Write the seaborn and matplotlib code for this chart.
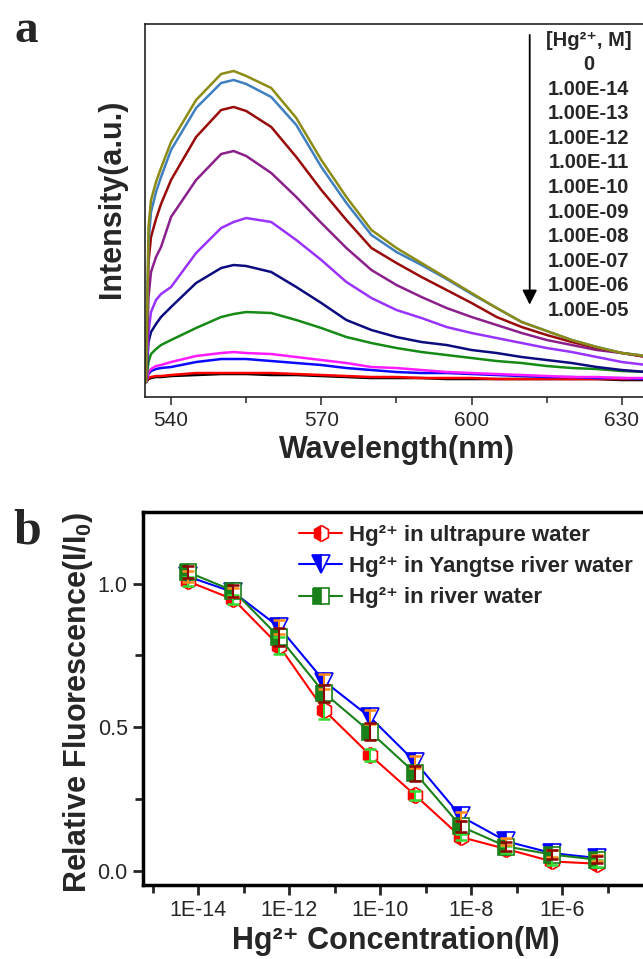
import numpy as np
import pandas as pd
import matplotlib
matplotlib.use("Agg")
import matplotlib.pyplot as plt
from matplotlib.ticker import FixedLocator, FuncFormatter, NullFormatter
import seaborn as sns

# ---- panel a: emission spectra ----
wavelength = [535, 535.5, 536, 537, 538, 540, 545, 550, 552.5, 555, 560, 565, 570, 575,
              580, 585, 590, 595, 600, 605, 610, 615, 620, 625, 630, 635]

conc_labels = ["0", "1.00E-14", "1.00E-13", "1.00E-12", "1.00E-11", "1.00E-10",
               "1.00E-09", "1.00E-08", "1.00E-07", "1.00E-06", "1.00E-05"]

spec_0 = [0, 155, 182, 200, 214, 240, 282, 308, 311, 306, 294, 264, 222, 185, 152, 134, 119, 104, 89, 74, 60, 51, 42, 35, 29, 26]
spec_14 = [0, 140, 170, 190, 205, 232, 274, 299, 302, 298, 285, 257, 215, 179, 147, 130, 117, 103, 88, 74, 60, 51, 42, 35, 29, 26]
spec_13 = [0, 120, 145, 163, 178, 202, 245, 272, 275, 271, 255, 225, 192, 162, 134, 119, 105, 92, 79, 65, 55, 47, 40, 34, 29, 25]
spec_12 = [0, 85, 110, 125, 135, 165, 202, 228, 231, 226, 209, 185, 159, 134, 112, 97, 85, 74, 65, 57, 49, 42, 37, 32, 29, 25]
spec_11 = [0, 50, 70, 82, 88, 95, 129, 154, 160, 164, 160, 142, 122, 100, 84, 72, 64, 55, 49, 44, 39, 34, 30, 25, 20, 17]
spec_10 = [0, 40, 50, 58, 65, 75, 99, 114, 117, 116, 110, 95, 79, 62, 52, 45, 40, 37, 32, 29, 25, 22, 19, 15, 12, 10]
spec_09 = [0, 20, 28, 33, 37, 42, 54, 65, 68, 70, 69, 62, 54, 45, 39, 34, 30, 27, 24, 21, 19, 16, 14, 13, 11, 10]
spec_08 = [0, 10, 13, 16, 17, 20, 26, 29, 30, 29, 28, 25, 22, 19, 15, 14, 12, 10, 9, 8, 7, 6, 5, 5, 4, 4]
spec_07 = [0, 8, 11, 13, 14, 15, 20, 23, 23, 23, 21, 19, 17, 14, 12, 10, 9, 9, 8, 7, 6, 5, 5, 4, 4, 3]
spec_06 = [0, 4, 5, 6, 6, 7, 9, 9, 9, 9, 9, 8, 7, 6, 5, 5, 4, 4, 4, 3, 3, 3, 3, 3, 3, 3]
spec_05 = [0, 3, 4, 5, 5, 6, 7, 8, 8, 8, 7, 7, 6, 5, 4, 4, 4, 3, 3, 3, 3, 3, 3, 3, 2, 2]

spec_colors = ["#8c8c14", "#4080c0", "#990a0a", "#8b1f8b", "#9933ff", "#0c0c80",
               "#158a15", "#ff1aff", "#0a0aff", "#ff0000", "#000000"]

# ---- panel b: relative fluorescence ----
conc_b = [6e-15, 6e-14, 6e-13, 6e-12, 6e-11, 6e-10, 6e-9, 6e-8, 6e-7, 6e-6]
ultrapure = [1.008, 0.945, 0.784, 0.558, 0.403, 0.262, 0.117, 0.075, 0.032, 0.024]
ultrapure_err = [0.015, 0.015, 0.03, 0.03, 0.02, 0.015, 0.012, 0.012, 0.012, 0.012]
yangtse = [1.025, 0.970, 0.849, 0.659, 0.535, 0.378, 0.189, 0.102, 0.061, 0.044]
yangtse_err = [0.02, 0.015, 0.025, 0.025, 0.025, 0.02, 0.015, 0.012, 0.012, 0.012]
river = [1.040, 0.975, 0.814, 0.618, 0.484, 0.339, 0.154, 0.084, 0.056, 0.038]
river_err = [0.02, 0.02, 0.03, 0.03, 0.03, 0.025, 0.02, 0.015, 0.015, 0.012]

series_names = ["Hg²⁺ in ultrapure water",
                "Hg²⁺ in Yangtse river water",
                "Hg²⁺ in river water"]
series_colors = ["#ff0000", "#0000ff", "#1a801a"]
series_markers = ["h", "v", "s"]
err_colors = ["#33dd33", "#ff8c1a", "#8b0000"]

sns.set_style("ticks")
plt.rcParams["font.family"] = ["Liberation Sans", "DejaVu Sans"]
plt.rcParams["mathtext.fontset"] = "custom"
plt.rcParams["mathtext.rm"] = "Liberation Sans"
plt.rcParams["mathtext.bf"] = "Liberation Sans:bold"

fig = plt.figure(figsize=(6.43, 9.59), dpi=100)

# ---------------- panel a ----------------
ax1 = fig.add_axes([0.2255, 0.586, 0.8196, 0.389])
all_specs = [spec_0, spec_14, spec_13, spec_12, spec_11, spec_10,
             spec_09, spec_08, spec_07, spec_06, spec_05]
rows = []
for lab, spec in zip(conc_labels, all_specs):
    for w, v in zip(wavelength, spec):
        rows.append({"wavelength": w, "intensity": v, "conc": lab})
df_a = pd.DataFrame(rows)

sns.lineplot(data=df_a, x="wavelength", y="intensity", hue="conc",
             hue_order=conc_labels[::-1], palette=spec_colors[::-1],
             lw=1.8, legend=False, errorbar=None, ax=ax1)

ax1.set_xlim(534.8, 640)
ax1.set_ylim(-15, 358)
ax1.xaxis.set_major_locator(FixedLocator([540, 570, 600, 630]))
ax1.xaxis.set_minor_locator(FixedLocator([555, 585, 615]))
ax1.set_yticks([])
ax1.tick_params(axis="x", which="major", direction="out", length=6, width=1.1,
                labelsize=15, pad=4)
ax1.tick_params(axis="x", which="minor", direction="out", length=4, width=1.1)
for s in ax1.spines.values():
    s.set_linewidth(1.2)
    s.set_color("#222222")

ax1.set_xlabel("Wavelength(nm)", fontsize=22, fontweight="bold")
ax1.xaxis.label.set_va("center")
ax1.xaxis.set_label_coords(0.479, -0.142)
ax1.set_ylabel("Intensity(a.u.)", fontsize=22, fontweight="bold")
ax1.yaxis.label.set_va("center")
ax1.yaxis.set_label_coords(-0.063, 0.531)

# concentration list and arrow
ax1.annotate("", xy=(0.730, 0.240), xytext=(0.730, 0.978), xycoords="axes fraction",
             arrowprops=dict(arrowstyle="-|>", color="black", lw=1.3, mutation_scale=22))
ax1.text(0.842, (397 - 41) / 373, "[Hg²⁺, M]", transform=ax1.transAxes,
         ha="center", va="center", fontsize=14.5, fontweight="bold")
for i, lab in enumerate(conc_labels):
    ax1.text(0.842, (397 - (65 + 24.5 * i)) / 373, lab, transform=ax1.transAxes,
             ha="center", va="center", fontsize=14.5, fontweight="bold")

fig.text(26.5 / 643, 1 - 42 / 959, "a", family="Liberation Serif", fontweight="bold",
         fontsize=34, ha="center", va="baseline")

# ---------------- panel b ----------------
ax2 = fig.add_axes([0.2224, 0.0772, 0.7932, 0.389])
ax2.set_xscale("log")
handles = []
for name, vals, errs, c, m, ec in zip(series_names, [ultrapure, yangtse, river],
                                      [ultrapure_err, yangtse_err, river_err],
                                      series_colors, series_markers, err_colors):
    sns.lineplot(x=conc_b, y=vals, color=c, lw=1.5, marker=m, fillstyle="left",
                 markerfacecoloralt="white", markeredgecolor=c, markeredgewidth=1.2,
                 markersize=13 if m == "v" else 11.5, label=name, legend=False,
                 errorbar=None, ax=ax2)
    handles.append(ax2.get_lines()[-1])
    ax2.errorbar(conc_b, vals, yerr=errs, fmt="none", ecolor=ec, elinewidth=1.5,
                 capsize=4, capthick=1.8, zorder=4)

ax2.set_xlim(10 ** -15.21, 1e-4)
ax2.set_ylim(-0.05, 1.25)
ax2.xaxis.set_major_locator(FixedLocator([1e-14, 1e-12, 1e-10, 1e-8, 1e-6]))
ax2.xaxis.set_minor_locator(FixedLocator([1e-15, 1e-13, 1e-11, 1e-9, 1e-7, 1e-5]))
ax2.xaxis.set_major_formatter(FuncFormatter(lambda v, p: "1E%d" % int(round(np.log10(v)))))
ax2.xaxis.set_minor_formatter(NullFormatter())
ax2.yaxis.set_major_locator(FixedLocator([0.0, 0.5, 1.0]))
ax2.yaxis.set_minor_locator(FixedLocator([0.25, 0.75]))
ax2.yaxis.set_major_formatter(FuncFormatter(lambda v, p: "%.1f" % v))
ax2.tick_params(which="major", direction="out", length=7, width=2, labelsize=15.5, pad=4)
ax2.tick_params(which="minor", direction="out", length=6, width=2)
for s in ax2.spines.values():
    s.set_linewidth(2.5)
    s.set_color("black")

ax2.set_xlabel("Hg²⁺ Concentration(M)", fontsize=22, fontweight="bold")
ax2.xaxis.label.set_va("center")
ax2.xaxis.set_label_coords(0.496, -0.150)
ax2.set_ylabel(r"Relative Fluorescence(I/I$_{\mathbf{0}}$)", fontsize=22, fontweight="bold")
ax2.yaxis.label.set_va("center")
ax2.yaxis.set_label_coords(-0.127, 0.49)

ax2.legend(handles=handles, labels=series_names, loc="upper left",
           bbox_to_anchor=(0.306, 0.966), frameon=False, borderpad=0,
           borderaxespad=0, handlelength=1.95, handletextpad=0.3, labelspacing=0.47,
           prop={"weight": "bold", "size": 16})

fig.text(27.5 / 643, 1 - 543 / 959, "b", family="Liberation Serif", fontweight="bold",
         fontsize=36, ha="center", va="baseline")

fig.savefig("out.png", dpi=100)
